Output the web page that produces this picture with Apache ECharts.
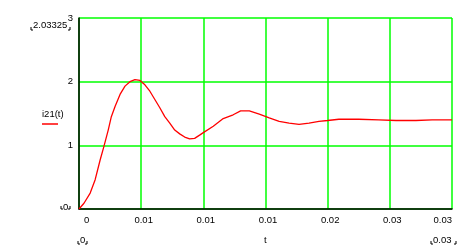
<!DOCTYPE html>
<html><head><meta charset="utf-8">
<script src="https://cdn.jsdelivr.net/npm/echarts@6/dist/echarts.min.js"></script>
<style>html,body{margin:0;padding:0;background:#fff}#c{width:469px;height:245px}</style>
</head><body><div id="c"></div>
<script>
const tValues = [0, 0.0004, 0.0009, 0.0013, 0.0017, 0.0020, 0.00235, 0.0026, 0.0029, 0.0033, 0.0037, 0.0041, 0.0045, 0.0049, 0.0053, 0.0057, 0.0061, 0.0065, 0.0069, 0.0073, 0.0077, 0.0081, 0.0085, 0.0089, 0.0093, 0.0097, 0.0100, 0.0108, 0.0116, 0.0124, 0.0130, 0.0137, 0.0145, 0.0153, 0.0161, 0.0169, 0.0177, 0.0185, 0.0193, 0.0200, 0.0209, 0.0225, 0.0241, 0.0255, 0.0271, 0.0284, 0.0300];
const i21Values = [0, 0.09, 0.25, 0.46, 0.77, 0.98, 1.24, 1.45, 1.61, 1.80, 1.93, 2.0, 2.033, 2.02, 1.95, 1.85, 1.72, 1.59, 1.45, 1.35, 1.24, 1.18, 1.13, 1.10, 1.11, 1.16, 1.20, 1.30, 1.42, 1.48, 1.54, 1.54, 1.49, 1.43, 1.375, 1.35, 1.33, 1.35, 1.375, 1.39, 1.41, 1.41, 1.40, 1.39, 1.39, 1.40, 1.40];
const xTickLabels = ['0', '0.01', '0.01', '0.01', '0.02', '0.03', '0.03'];
const yTickLabels = ['0', '1', '2', '3'];
const seriesName = 'i21(t)';
const xName = 't';
const yUpperMarker = '2.03325';
const yLowerMarker = '0';
const xLowerMarker = '0';
const xUpperMarker = '0.03';

const chart = echarts.init(document.getElementById('c'));
const FF = '"Liberation Sans", Arial, sans-serif';
const FS = 9.5;
const FONT = FS + 'px ' + FF;
const font = {fontFamily: FF, fontSize: FS, color: '#000'};
function bracket(x1, x2, y) {
  return [
    {type: 'polyline', shape: {points: [[x1, y - 3], [x1, y], [x1 + 2, y]]}, style: {stroke: '#000', lineWidth: 1, fill: null}},
    {type: 'polyline', shape: {points: [[x2, y - 3], [x2, y], [x2 - 2, y]]}, style: {stroke: '#000', lineWidth: 1, fill: null}}
  ];
}
chart.setOption({
  animation: false,
  grid: {left: 79, top: 18, right: 17, bottom: 36, containLabel: false},
  xAxis: {
    type: 'value', min: 0, max: 0.03, interval: 0.005,
    axisLine: {lineStyle: {color: '#000', width: 1.5}},
    axisTick: {show: false},
    splitLine: {show: true, lineStyle: {color: '#00ff00', width: 1.5}},
    axisLabel: Object.assign({margin: 6, padding: [0, 0, 0, 5], alignMinLabel: 'left', alignMaxLabel: 'right',
      formatter: (v) => xTickLabels[Math.round(v / 0.005)]}, font)
  },
  yAxis: {
    type: 'value', min: 0, max: 3, interval: 1,
    axisLine: {show: true, lineStyle: {color: '#000', width: 1.5}},
    axisTick: {show: false},
    splitLine: {show: true, lineStyle: {color: '#00ff00', width: 1.5}},
    axisLabel: Object.assign({margin: 6, showMinLabel: false, formatter: (v) => yTickLabels[Math.round(v)]}, font)
  },
  series: [{
    name: seriesName, type: 'line', showSymbol: false, smooth: false,
    data: tValues.map((t, i) => [t, i21Values[i]]),
    lineStyle: {color: '#ff0000', width: 1.3}
  }],
  graphic: [
    {type: 'text', left: 33, top: 20, style: {text: yUpperMarker, fill: '#000', font: FONT}},
    ...bracket(31, 70, 30),
    {type: 'text', left: 63, top: 202, style: {text: yLowerMarker, fill: '#000', font: FONT}},
    ...bracket(61, 70, 209),
    {type: 'text', left: 80, top: 235, style: {text: xLowerMarker, fill: '#000', font: FONT}},
    ...bracket(78, 87, 244),
    {type: 'text', left: 264, top: 235, style: {text: xName, fill: '#000', font: FONT}},
    {type: 'text', left: 433, top: 235, style: {text: xUpperMarker, fill: '#000', font: FONT}},
    ...bracket(431, 456, 244),
    {type: 'text', left: 42, top: 109, style: {text: seriesName, fill: '#000', font: FONT}},
    {type: 'line', shape: {x1: 42, y1: 124, x2: 58, y2: 124}, style: {stroke: '#ff0000', lineWidth: 1.5}}
  ]
});
</script></body></html>
